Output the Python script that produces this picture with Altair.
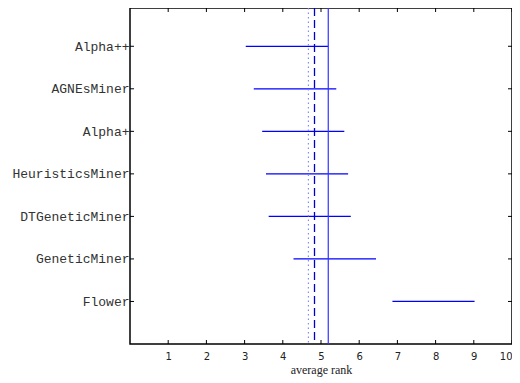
import altair as alt
import pandas as pd

methods = ["Alpha++", "AGNEsMiner", "Alpha+", "HeuristicsMiner", "DTGeneticMiner", "GeneticMiner", "Flower"]
positions = [7, 6, 5, 4, 3, 2, 1]
low = [3.03, 3.24, 3.46, 3.56, 3.63, 4.28, 6.87]
high = [5.19, 5.40, 5.61, 5.71, 5.78, 6.44, 9.02]
ref_lines = [4.67, 4.83, 5.19]
ref_styles = ["dotted", "dashed", "solid"]
x_ticks = [1, 2, 3, 4, 5, 6, 7, 8, 9, 10]

W, H = 382, 336
TK = 4

df = pd.DataFrame({"method": methods, "pos": positions, "low": low, "high": high})
lines = pd.DataFrame({"x": ref_lines, "style": ref_styles})
xt = pd.DataFrame({"v": x_ticks})
yt = pd.DataFrame({"v": positions})

names_by_pos = [""] * 9
for m, p in zip(methods, positions):
    names_by_pos[p] = m
label_expr = "[" + ",".join("'" + n + "'" for n in names_by_pos) + "][datum.value]"

xscale = alt.Scale(domain=[0, 10], nice=False, zero=False)
yscale = alt.Scale(domain=[0, 7.9], nice=False, zero=False)

bars = alt.Chart(df).mark_rule(color="#0000FF", strokeWidth=1.2).encode(
    x=alt.X("low:Q", scale=xscale, axis=alt.Axis(
        orient="bottom", values=x_ticks, ticks=False, domain=False, grid=False,
        labelFont="DejaVu Sans", labelFontSize=10, labelColor="#222", labelPadding=7,
        title="average rank", titleFont="Liberation Serif", titleFontSize=12,
        titleFontWeight="normal", titleColor="#222", titlePadding=3)),
    x2="high:Q",
    y=alt.Y("pos:Q", scale=yscale, axis=alt.Axis(
        orient="left", values=positions, ticks=False, domain=False, grid=False,
        labelExpr=label_expr, labelFont="Liberation Mono", labelFontSize=13,
        labelColor="#333", labelPadding=1, title=None)),
)

def vline(style, color, dash, width):
    return alt.Chart(lines[lines["style"] == style]).mark_rule(
        color=color, strokeDash=dash, strokeWidth=width).encode(
        x=alt.X("x:Q", scale=xscale),
        y=alt.value(0), y2=alt.value(H))

dotted = vline("dotted", "#8080FF", [1.5, 3], 1.1)
dashed = vline("dashed", "#0000CC", [8, 4], 1.3)
solid = vline("solid", "#3333FF", [1, 0], 1.2)

tick_mark = dict(color="black", strokeWidth=1)
xt_bottom = alt.Chart(xt).mark_rule(**tick_mark).encode(
    x=alt.X("v:Q", scale=xscale), y=alt.value(H), y2=alt.value(H - TK))
xt_top = alt.Chart(xt).mark_rule(**tick_mark).encode(
    x=alt.X("v:Q", scale=xscale), y=alt.value(0), y2=alt.value(TK))
yt_left = alt.Chart(yt).mark_rule(**tick_mark).encode(
    y=alt.Y("v:Q", scale=yscale), x=alt.value(0), x2=alt.value(TK))
yt_right = alt.Chart(yt).mark_rule(**tick_mark).encode(
    y=alt.Y("v:Q", scale=yscale), x=alt.value(W - TK), x2=alt.value(W))

chart = alt.layer(bars, xt_bottom, xt_top, yt_left, yt_right, dotted, dashed, solid).properties(
    width=W, height=H,
    autosize=alt.AutoSizeParams(type="none"),
    padding={"left": 122, "top": 0, "right": 0, "bottom": 33},
).configure_view(stroke="black", strokeWidth=1.5)

chart.save("out.html", embed_options={"renderer": "svg", "actions": False})
